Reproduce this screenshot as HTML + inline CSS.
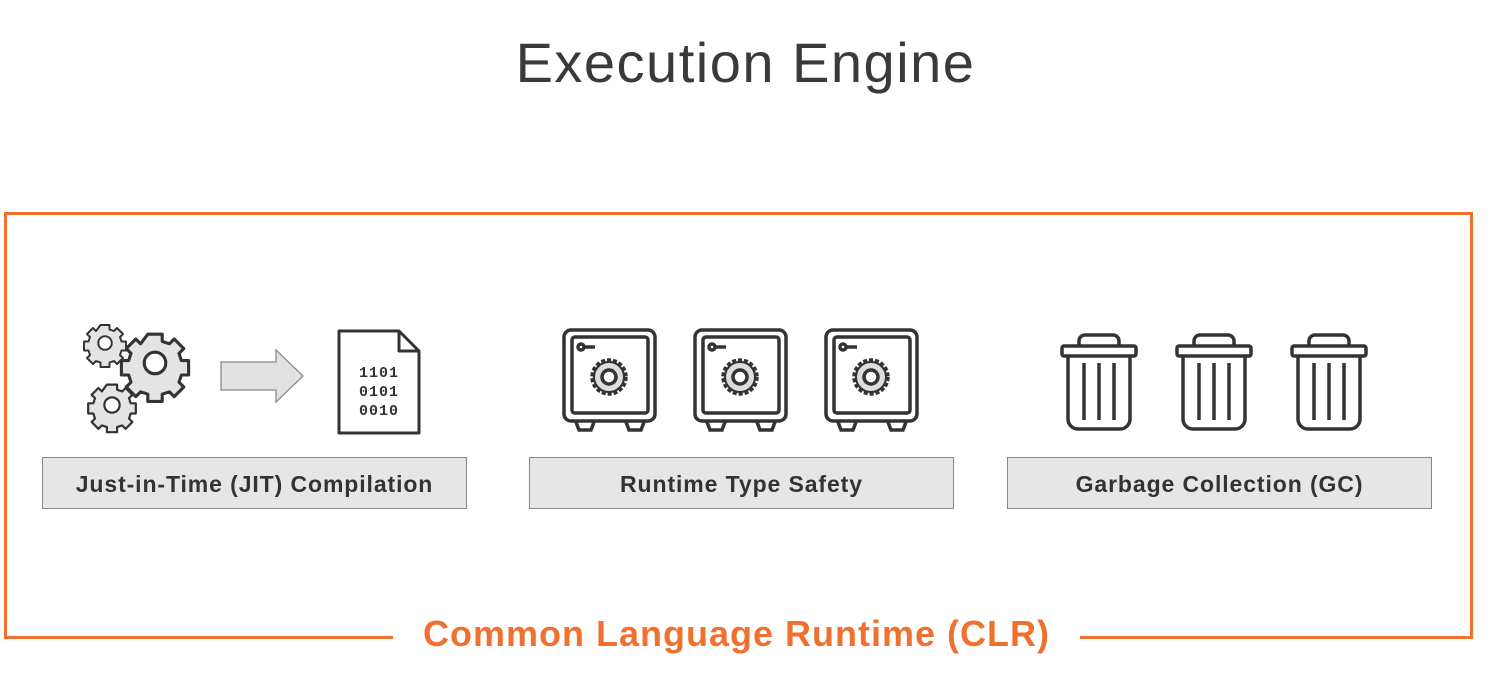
<!DOCTYPE html>
<html><head><style>
body{margin:0;width:1491px;height:693px;background:#fff;position:relative;overflow:hidden;font-family:"Liberation Sans",sans-serif}
.t{position:absolute;left:0;width:1491px;text-align:center;top:30px;font-size:56px;color:#3a3a3a;font-weight:normal;letter-spacing:1.5px}
.frame{position:absolute;left:4px;top:212px;width:1463px;height:421px;border:3px solid #f07030}
.clr{position:absolute;left:393px;width:687px;top:611px;text-align:center;background:#fff;color:#f07030;font-weight:bold;font-size:36px;letter-spacing:1px;line-height:46px}
.box{position:absolute;top:457px;height:52px;width:425px;background:#e6e6e6;border:1px solid #888;box-sizing:border-box;text-align:center;line-height:52px;font-weight:bold;font-size:23px;letter-spacing:0.9px;color:#333}
svg{position:absolute;left:0;top:0}
</style></head><body>
<div class="t">Execution Engine</div>
<div class="frame"></div>
<div class="clr">Common Language Runtime (CLR)</div>
<div class="box" style="left:42px">Just-in-Time (JIT) Compilation</div>
<div class="box" style="left:529px">Runtime Type Safety</div>
<div class="box" style="left:1007px">Garbage Collection (GC)</div>
<svg width="1491" height="693">
<defs>
<g id="gear"><path d="M-3,-12h6v3l3,1 2,-2 4,4 -2,2 1,3h3v6h-3l-1,3 2,2 -4,4 -2,-2 -3,1v3h-6v-3l-3,-1 -2,2 -4,-4 2,-2 -1,-3h-3v-6h3l1,-3 -2,-2 4,-4 2,2z" fill="#e4e4e4" stroke="#333" stroke-width="1.3" stroke-linejoin="round"/><circle r="4.5" fill="#fff" stroke="#333" stroke-width="1.3"/></g>
<g id="safe" fill="none" stroke="#333" stroke-width="3.5">
<rect x="2" y="2" width="91" height="91" rx="7"/><rect x="10" y="9" width="76" height="76" rx="3"/>
<path d="M14,94 l3,8 h12 l3,-8 M64,94 l3,8 h12 l3,-8"/>
<circle cx="19" cy="19" r="3"/><path d="M22,19h11"/>
<circle cx="47" cy="49" r="17" fill="#ddd" stroke-dasharray="4 2"/><circle cx="47" cy="49" r="15" fill="#ddd" stroke-width="2"/><circle cx="47" cy="49" r="7" fill="#fff"/>
</g>
<g id="trash" fill="none" stroke="#333" stroke-width="3.5">
<path d="M19,13v-5a6,6 0 0 1 6,-6h28a6,6 0 0 1 6,6v5"/>
<rect x="2" y="13" width="74" height="10" rx="2"/>
<path d="M8,23v63a10,10 0 0 0 10,10h42a10,10 0 0 0 10,-10v-63"/>
<path d="M24,30v57M39,30v57M54,30v57"/>
</g>
</defs>
<use href="#gear" transform="translate(155,363) scale(2.4)"/>
<use href="#gear" transform="translate(105,343) scale(1.5)"/>
<use href="#gear" transform="translate(112,405) scale(1.7)"/>
<path d="M221,362h55v-12l27,26 -27,26v-12h-55z" fill="#e2e2e2" stroke="#888" stroke-width="1.3"/>
<path d="M339,331h60l20,20v82h-80z M399,331v20h20" fill="#fff" stroke="#333" stroke-width="3" stroke-linejoin="round"/>
<text x="379" y="377" font-family="Liberation Mono,monospace" font-weight="bold" font-size="15" fill="#333" text-anchor="middle" letter-spacing="1">1101</text>
<text x="379" y="396" font-family="Liberation Mono,monospace" font-weight="bold" font-size="15" fill="#333" text-anchor="middle" letter-spacing="1">0101</text>
<text x="379" y="415" font-family="Liberation Mono,monospace" font-weight="bold" font-size="15" fill="#333" text-anchor="middle" letter-spacing="1">0010</text>
<use href="#safe" x="562" y="328"/>
<use href="#safe" x="693" y="328"/>
<use href="#safe" x="824" y="328"/>
<use href="#trash" x="1060" y="333"/>
<use href="#trash" x="1175" y="333"/>
<use href="#trash" x="1290" y="333"/>
</svg>
</body></html>
